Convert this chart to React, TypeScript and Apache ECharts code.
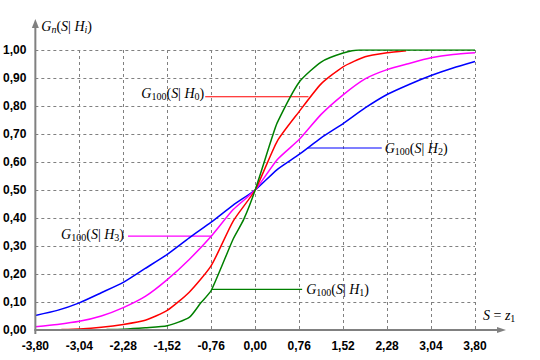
import React, { useEffect, useRef } from "react";
import * as echarts from "echarts";

// ---- data ----
const X_MIN = -3.8;
const X_MAX = 3.8;
const X_STEP = 0.76;
const Y_MIN = 0;
const Y_MAX = 1;
const Y_STEP = 0.1;

// H0 (red)
const xH0 = [-3.35, -3.04, -2.66, -2.28, -1.9, -1.52, -1.14, -0.76, -0.38, 0, 0.38, 0.76, 1.14, 1.52, 1.9, 2.28, 2.61];
const yH0 = [0.002, 0.004, 0.01, 0.02, 0.035, 0.07, 0.135, 0.23, 0.389, 0.5, 0.674, 0.78, 0.879, 0.94, 0.976, 0.99, 0.997];

// H1 (green)
const xH1 = [-2.57, -2.28, -1.9, -1.52, -1.14, -0.94, -0.76, -0.38, -0.2, 0, 0.28, 0.38, 0.76, 1.14, 1.52, 1.8, 3.8];
const yH1 = [0.002, 0.003, 0.008, 0.015, 0.045, 0.097, 0.141, 0.325, 0.394, 0.5, 0.68, 0.74, 0.885, 0.957, 0.989, 1.0, 1.0];

// H2 (blue)
const xH2 = [-3.8, -3.42, -3.04, -2.66, -2.28, -1.9, -1.52, -1.14, -0.76, -0.38, 0, 0.38, 0.76, 1.14, 1.52, 1.9, 2.28, 2.66, 3.04, 3.42, 3.8];
const yH2 = [0.052, 0.07, 0.097, 0.133, 0.17, 0.22, 0.27, 0.329, 0.385, 0.446, 0.5, 0.573, 0.627, 0.686, 0.737, 0.793, 0.841, 0.877, 0.909, 0.936, 0.959];

// H3 (magenta)
const xH3 = [-3.8, -3.42, -3.04, -2.66, -2.28, -1.9, -1.52, -1.14, -0.76, -0.38, 0, 0.38, 0.76, 1.14, 1.52, 1.9, 2.28, 2.66, 3.04, 3.42, 3.8];
const yH3 = [0.012, 0.02, 0.031, 0.05, 0.08, 0.12, 0.18, 0.252, 0.335, 0.43, 0.5, 0.608, 0.68, 0.77, 0.84, 0.897, 0.93, 0.952, 0.972, 0.984, 0.99];

// annotation leader lines: [xStart, xEnd, y]
const leaderH0 = [-0.864, 0.921, 0.833];
const leaderH1 = [-0.748, 0.812, 0.145];
const leaderH2 = [0.903, 2.188, 0.65];
const leaderH3 = [-2.199, -0.748, 0.335];

const SERIF = '"Liberation Serif", "Times New Roman", serif';
const SANS = '"Liberation Sans", Arial, sans-serif';

const C_RED = "#ff0000";
const C_GREEN = "#008000";
const C_BLUE = "#0000ff";
const C_MAG = "#ff00ff";
const C_AXIS = "#808080";

const zip = (xs: number[], ys: number[]) => xs.map((x, i) => [x, ys[i]]);
const fmt = (v: number) => v.toFixed(2).replace(".", ",");

const rich = {
  i: { fontFamily: SERIF, fontStyle: "italic", fontSize: 14, lineHeight: 16, fill: "#000" },
  n: { fontFamily: SERIF, fontSize: 14, lineHeight: 16, fill: "#000" },
  s: { fontFamily: SERIF, fontSize: 10, lineHeight: 10, verticalAlign: "bottom", fill: "#000" },
  si: { fontFamily: SERIF, fontStyle: "italic", fontSize: 10, lineHeight: 10, verticalAlign: "bottom", fill: "#000" },
};

const gLabel = (k: string) => `{i|G}{s|100}{n|(}{i|S}{n|| }{i|H}{s|${k}}{n|)}`;

function curve(name: string, xs: number[], ys: number[], color: string) {
  return {
    name,
    type: "line",
    data: zip(xs, ys),
    symbol: "none",
    smooth: 0.2,
    lineStyle: { color, width: 1.5 },
    z: 3,
  };
}

function leader(l: number[], color: string) {
  return {
    type: "line",
    data: [
      [l[0], l[2]],
      [l[1], l[2]],
    ],
    symbol: "none",
    lineStyle: { color, width: 1.2 },
    z: 2,
  };
}

export default function App() {
  const ref = useRef<HTMLDivElement>(null);
  useEffect(() => {
    document.body.style.margin = "0";
    const chart = echarts.init(ref.current!, null, { renderer: "svg" });
    chart.setOption({
      animation: false,
      backgroundColor: "#fff",
      grid: { left: 35, top: 50, width: 440, height: 280, containLabel: false },
      xAxis: {
        type: "value",
        min: X_MIN,
        max: X_MAX,
        interval: X_STEP,
        axisLine: { show: false },
        axisTick: { show: false },
        axisLabel: {
          formatter: fmt,
          color: "#000",
          fontFamily: SANS,
          fontWeight: "bold",
          fontSize: 12,
          margin: 10,
          showMinLabel: true,
          showMaxLabel: true,
        },
        splitLine: { show: true, lineStyle: { color: C_AXIS, type: [3, 3], width: 1 } },
      },
      yAxis: {
        type: "value",
        min: Y_MIN,
        max: Y_MAX,
        interval: Y_STEP,
        axisLine: { show: false },
        axisTick: { show: false },
        axisLabel: {
          formatter: fmt,
          color: "#000",
          fontFamily: SANS,
          fontWeight: "bold",
          fontSize: 12,
          margin: 9,
        },
        splitLine: { show: true, lineStyle: { color: C_AXIS, type: [3, 3], width: 1 } },
      },
      series: [
        curve("H2", xH2, yH2, C_BLUE),
        curve("H3", xH3, yH3, C_MAG),
        curve("H0", xH0, yH0, C_RED),
        curve("H1", xH1, yH1, C_GREEN),
        leader(leaderH0, C_RED),
        leader(leaderH1, C_GREEN),
        leader(leaderH2, C_BLUE),
        leader(leaderH3, C_MAG),
      ],
    });

    const px = (x: number, y: number) => chart.convertToPixel({ gridIndex: 0 }, [x, y]) as number[];
    const o = px(X_MIN, Y_MIN);
    const t = px(X_MIN, Y_MAX);
    const r = px(X_MAX, Y_MIN);
    const p0 = px(leaderH0[0], leaderH0[2]);
    const p1 = px(leaderH1[1], leaderH1[2]);
    const p2 = px(leaderH2[1], leaderH2[2]);
    const p3 = px(leaderH3[0], leaderH3[2]);

    const textEl = (x: number, y: number, text: string, align: string) => ({
      type: "text",
      x,
      y,
      z: 10,
      style: { text, rich, align, verticalAlign: "middle", fill: "#000" },
    });

    chart.setOption({
      graphic: [
        {
          type: "line",
          shape: { x1: o[0], y1: o[1] + 4, x2: o[0], y2: t[1] - 24 },
          style: { stroke: C_AXIS, lineWidth: 2 },
          z: 5,
        },
        {
          type: "polygon",
          shape: { points: [[o[0], t[1] - 31], [o[0] - 3.5, t[1] - 22], [o[0] + 3.5, t[1] - 22]] },
          style: { fill: C_AXIS },
          z: 5,
        },
        {
          type: "line",
          shape: { x1: o[0] - 1, y1: o[1], x2: r[0] + 24, y2: o[1] },
          style: { stroke: C_AXIS, lineWidth: 2 },
          z: 5,
        },
        {
          type: "polygon",
          shape: { points: [[r[0] + 31, o[1]], [r[0] + 22, o[1] - 3], [r[0] + 22, o[1] + 3]] },
          style: { fill: C_AXIS },
          z: 5,
        },
        textEl(p0[0] - 1, p0[1] - 3, gLabel("0"), "right"),
        textEl(p1[0] + 4, p1[1], gLabel("1"), "left"),
        textEl(p2[0] + 3, p2[1], gLabel("2"), "left"),
        textEl(p3[0] - 4, p3[1] - 2, gLabel("3"), "right"),
        textEl(o[0] + 6, t[1] - 24, "{i|G}{si|n}{n|(}{i|S}{n|| }{i|H}{si|i}{n|)}", "left"),
        textEl(r[0] + 8, o[1] - 15, "{i|S}{n| = }{i|z}{s|1}", "left"),
      ],
    });

    return () => chart.dispose();
  }, []);
  return <div ref={ref} style={{ width: 540, height: 360 }} />;
}
